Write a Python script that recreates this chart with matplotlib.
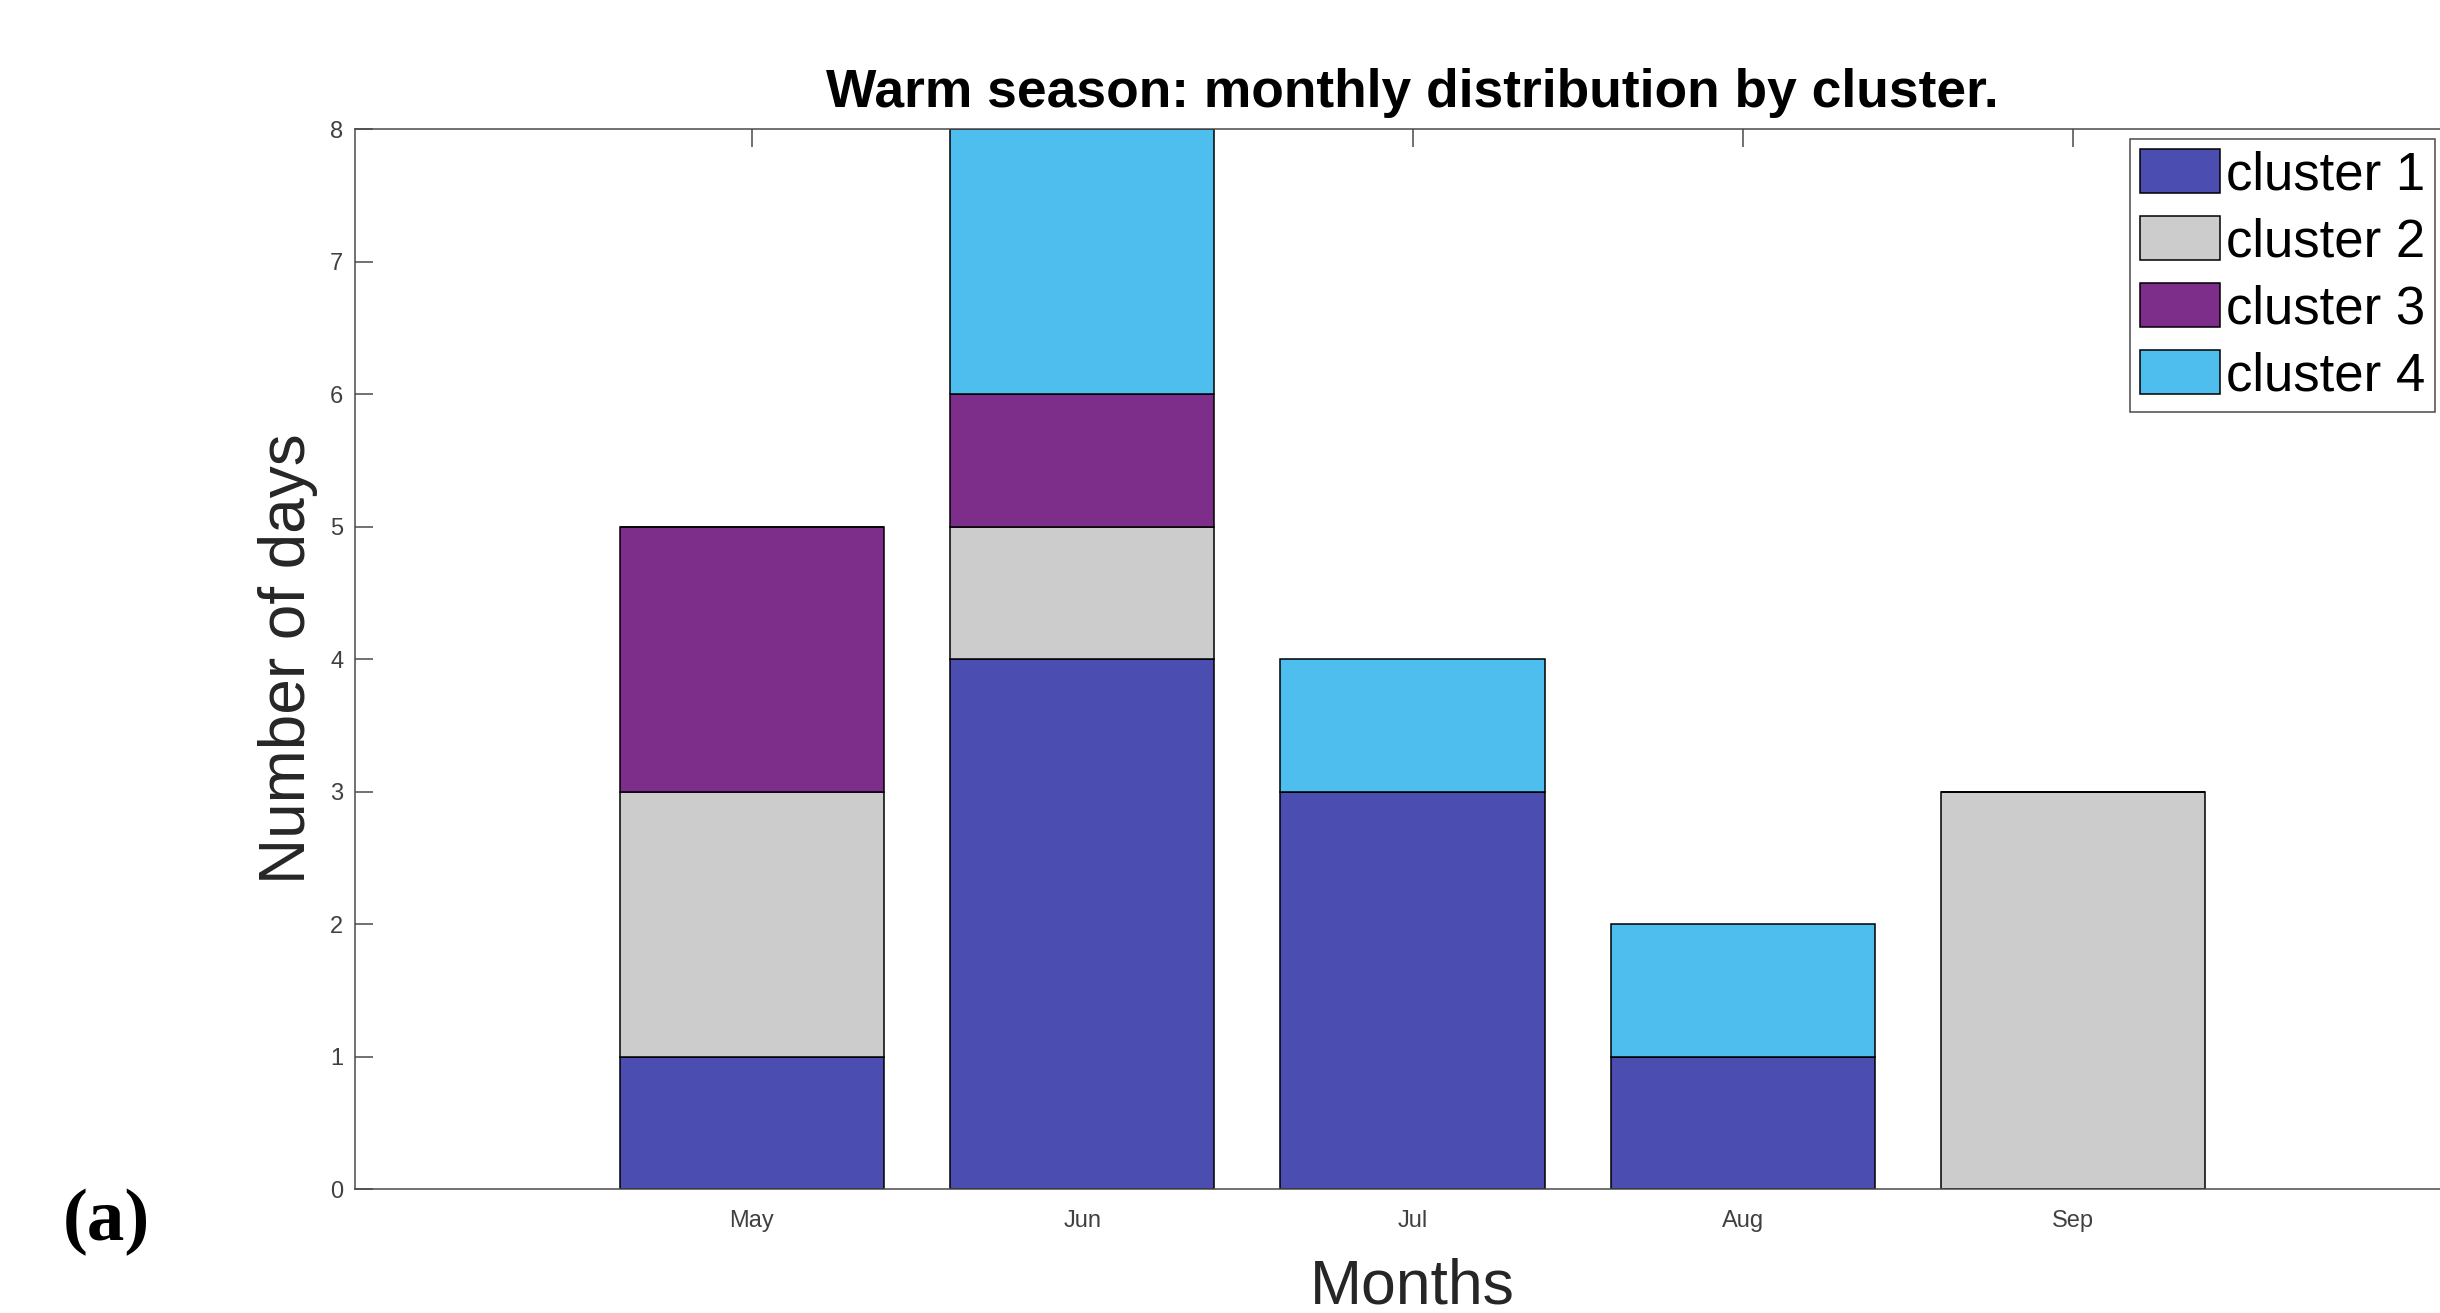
import numpy as np
import matplotlib
matplotlib.use("Agg")
import matplotlib.pyplot as plt

# ---- data ----
months = ["May", "Jun", "Jul", "Aug", "Sep"]
cluster_names = ["cluster 1", "cluster 2", "cluster 3", "cluster 4"]
cluster1 = [1, 4, 3, 1, 0]
cluster2 = [2, 1, 0, 0, 3]
cluster3 = [2, 1, 0, 0, 0]
cluster4 = [0, 2, 1, 1, 0]
yticks = [0, 1, 2, 3, 4, 5, 6, 7, 8]

colors = ["#4B4DB1", "#CCCCCC", "#7D2E8A", "#4DBEED"]

plt.rcParams["font.family"] = ["Liberation Sans", "DejaVu Sans"]

W, H, DPI = 2440, 1313, 100
fig = plt.figure(figsize=(W / DPI, H / DPI), dpi=DPI)
fig.patch.set_facecolor("white")

ax_left, ax_right, ax_top, ax_bottom = 355.3, 2469.8, 129.3, 1189.0
ax = fig.add_axes([ax_left / W, (H - ax_bottom) / H,
                   (ax_right - ax_left) / W, (ax_bottom - ax_top) / H])

x = np.arange(len(months))
series = [cluster1, cluster2, cluster3, cluster4]
bottom = np.zeros(len(months))
for vals, name, col in zip(series, cluster_names, colors):
    vals = np.array(vals, dtype=float)
    ax.bar(x, vals, width=0.8, bottom=bottom, color=col, edgecolor="black",
           linewidth=1.1, label=name, zorder=2)
    bottom += vals

ax.set_xlim(-1.2, 5.2)
ax.set_ylim(0, 8)
ax.set_xticks(x)
ax.set_xticklabels(months)
ax.set_yticks(yticks)

spine_col = "#4a4a4a"
for s in ax.spines.values():
    s.set_color(spine_col)
    s.set_linewidth(1.1)
    s.set_zorder(3)

ax.tick_params(axis="both", direction="in", length=13, width=1.1,
               colors=spine_col, labelcolor="#404040", labelsize=17,
               top=True, right=True)
ax.tick_params(axis="x", pad=15)
ax.tick_params(axis="y", pad=8.5)

ax.set_title("Warm season: monthly distribution by cluster.", fontsize=38.4,
             fontweight="bold", color="black", pad=16.3)
ax.set_xlabel("Months", fontsize=45, color="#262626")
ax.set_ylabel("Number of days", fontsize=46, color="#262626")
ax.xaxis.set_label_coords(0.5, -(1258 - ax_bottom) / (ax_bottom - ax_top))
ax.yaxis.set_label_coords((318.5 - ax_left) / (ax_right - ax_left), 0.5)

leg = ax.legend(loc="upper right",
                bbox_to_anchor=(2435 / W, 1 - 139 / H),
                bbox_transform=fig.transFigure, borderaxespad=0,
                fontsize=38, fancybox=False, framealpha=1,
                edgecolor=spine_col, handlelength=1.53, handleheight=0.91,
                handletextpad=0.1, labelspacing=0.30, borderpad=0.19)
leg.get_frame().set_linewidth(1.1)

fig.text(63 / W, 1 - 1240 / H, "(a)", fontsize=54, fontweight="bold",
         family=["Liberation Serif", "DejaVu Serif"], ha="left", va="baseline")

fig.savefig("out.png", dpi=DPI, facecolor="white")
